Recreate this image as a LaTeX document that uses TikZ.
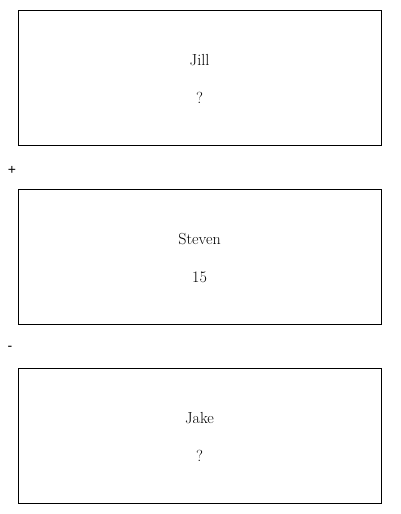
\documentclass[tikz,border=0pt]{standalone}
\usepackage{fontspec}
\newfontfamily\signfont{Liberation Sans}
\begin{document}
\begin{tikzpicture}[x=1pt,y=-1pt,
  personbox/.style={draw, line width=1pt, minimum width=363pt, minimum height=135pt, inner sep=0pt},
  lbl/.style={font=\fontsize{16}{19}\selectfont, inner sep=0pt},
  sign/.style={font=\signfont\fontsize{14}{16}\selectfont, inner sep=0pt}]
\useasboundingbox (0,0) rectangle (400,514);
\node[personbox] (b1) at (199.5,77.5) {};
\node[personbox] (b2) at (199.5,256.5) {};
\node[personbox] (b3) at (199.5,435.5) {};
\node[lbl] (n1) at ([yshift=17.5pt]b1.center) {Jill};
\node[lbl] (v1) at ([yshift=-20.5pt]b1.center) {?};
\node[lbl] (n2) at ([yshift=17.5pt]b2.center) {Steven};
\node[lbl] (v2) at ([yshift=-20.5pt]b2.center) {15};
\node[lbl] (n3) at ([yshift=17.5pt]b3.center) {Jake};
\node[lbl] (v3) at ([yshift=-20.5pt]b3.center) {?};
\node[sign] (plus) at (12,170) {+};
\node[sign] (minus) at (10,348) {-};
\end{tikzpicture}
\end{document}
